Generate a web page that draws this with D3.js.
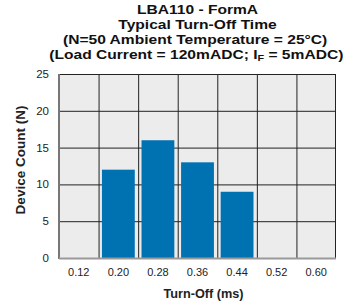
<!DOCTYPE html>
<html>
<head>
<meta charset="utf-8">
<script src="https://cdn.jsdelivr.net/npm/d3@7"></script>
<style>
  body { margin: 0; background: #fff; }
  svg { display: block; font-family: "Liberation Sans", Arial, sans-serif; }
</style>
</head>
<body>
<div id="chart"></div>
<script>
const categories = ["0.12", "0.20", "0.28", "0.36", "0.44", "0.52", "0.60"];
const counts = [0, 12, 16, 13, 9, 0, 0];
const yTicks = [0, 5, 10, 15, 20, 25];

const width = 353, height = 308;
const margin = { top: 74, right: 17, bottom: 50, left: 59 };
const innerW = width - margin.left - margin.right;
const innerH = height - margin.top - margin.bottom;

const svg = d3.select("#chart").append("svg")
  .attr("width", width)
  .attr("height", height);

const x = d3.scaleBand().domain(categories).range([0, innerW]).paddingInner(0.17).paddingOuter(0.085);
const xGrid = d3.scaleBand().domain(categories).range([0, innerW]);
const y = d3.scaleLinear().domain([0, 25]).range([innerH, 0]);

const g = svg.append("g").attr("transform", `translate(${margin.left},${margin.top})`);

// plot background
g.append("rect")
  .attr("width", innerW)
  .attr("height", innerH)
  .attr("fill", "#ececec");

// horizontal grid
g.selectAll(".hgrid")
  .data(yTicks.slice(1))
  .join("line")
  .attr("x1", 0).attr("x2", innerW)
  .attr("y1", d => y(d) + 0.5).attr("y2", d => y(d) + 0.5)
  .attr("stroke", "#222").attr("stroke-width", 1);

// vertical grid (band edges + right border)
g.selectAll(".vgrid")
  .data(categories.slice(1).concat(["end"]))
  .join("line")
  .attr("x1", (d, i) => i < categories.length - 1 ? xGrid(d) + 0.5 : innerW - 0.5)
  .attr("x2", (d, i) => i < categories.length - 1 ? xGrid(d) + 0.5 : innerW - 0.5)
  .attr("y1", 0).attr("y2", innerH)
  .attr("stroke", "#222").attr("stroke-width", 1);

// bars
g.selectAll(".bar")
  .data(categories.map((c, i) => ({ c, v: counts[i] })).filter(d => d.v > 0))
  .join("rect")
  .attr("x", d => x(d.c))
  .attr("y", d => y(d.v))
  .attr("width", x.bandwidth())
  .attr("height", d => innerH - y(d.v))
  .attr("fill", "#0072b2");

// axis lines
g.append("line")
  .attr("x1", 0).attr("x2", 0).attr("y1", 0).attr("y2", innerH + 1)
  .attr("stroke", "#777").attr("stroke-width", 2);
g.append("line")
  .attr("x1", 0).attr("x2", innerW).attr("y1", innerH + 0.5).attr("y2", innerH + 0.5)
  .attr("stroke", "#999").attr("stroke-width", 2);

// y tick labels
g.selectAll(".ylab")
  .data(yTicks)
  .join("text")
  .attr("x", -10)
  .attr("y", d => y(d))
  .attr("dy", "0.35em")
  .attr("text-anchor", "end")
  .attr("font-size", 11.5)
  .attr("fill", "#222")
  .text(d => d);

// x tick labels
g.selectAll(".xlab")
  .data(categories)
  .join("text")
  .attr("x", d => xGrid(d) + xGrid.bandwidth() / 2)
  .attr("y", innerH + 18)
  .attr("text-anchor", "middle")
  .attr("font-size", 11)
  .attr("fill", "#222")
  .text(d => d);

// axis titles
svg.append("text")
  .attr("x", margin.left + innerW / 2 + 6)
  .attr("y", 298)
  .attr("text-anchor", "middle")
  .attr("font-size", 12.7)
  .attr("font-weight", "bold")
  .attr("fill", "#222")
  .text("Turn-Off (ms)");

svg.append("text")
  .attr("transform", `translate(25,160) rotate(-90)`)
  .attr("text-anchor", "middle")
  .attr("font-size", 13.5)
  .attr("font-weight", "bold")
  .attr("fill", "#222")
  .text("Device Count (N)");

// title - stretched horizontally like the original
const cx = margin.left + innerW / 2;
const title = svg.append("g")
  .attr("transform", `translate(${cx},0) scale(1.2,1)`)
  .attr("font-size", 13)
  .attr("font-weight", "bold")
  .attr("fill", "#111")
  .attr("text-anchor", "middle");
title.append("text").attr("x", 0).attr("y", 14).text("LBA110 - FormA");
title.append("text").attr("x", 0).attr("y", 29).text("Typical Turn-Off Time");
title.append("text").attr("x", -2).attr("y", 44).text("(N=50 Ambient Temperature = 25\u00B0C)");
const l4 = title.append("text").attr("x", -1).attr("y", 59);
l4.append("tspan").text("(Load Current = 120mADC; I");
l4.append("tspan").attr("font-size", 9).attr("dy", 2).text("F");
l4.append("tspan").attr("dy", -2).text(" = 5mADC)");
</script>
</body>
</html>
